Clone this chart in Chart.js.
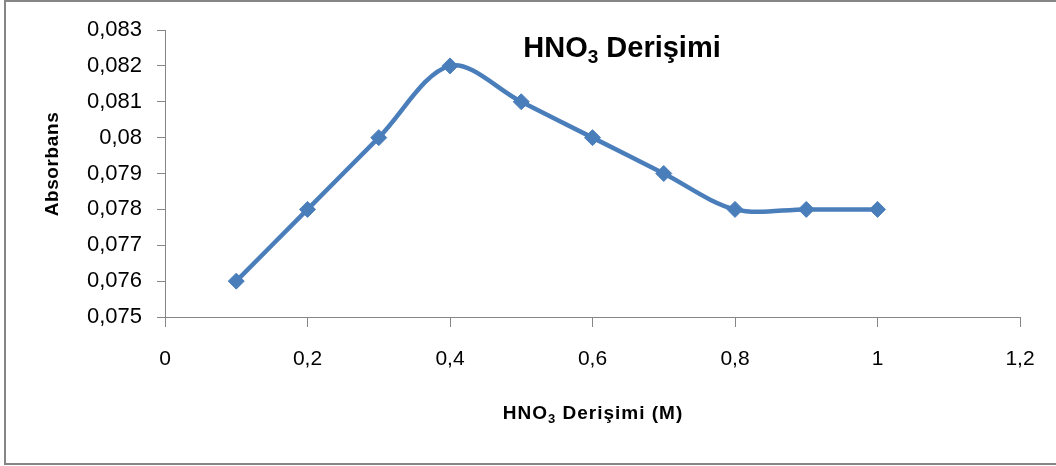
<!DOCTYPE html>
<html>
<head>
<meta charset="utf-8">
<script src="https://cdn.jsdelivr.net/npm/chart.js@4/dist/chart.umd.min.js"></script>
<style>
html,body{margin:0;padding:0;background:#fff;}
canvas{display:block;}
</style>
</head>
<body>
<canvas id="c" width="1056" height="466"></canvas>
<script>
const xValues = [0.1, 0.2, 0.3, 0.4, 0.5, 0.6, 0.7, 0.8, 0.9, 1.0];
const absorbans = [0.076, 0.078, 0.080, 0.082, 0.081, 0.080, 0.079, 0.078, 0.078, 0.078];
const xTicks = [0, 0.2, 0.4, 0.6, 0.8, 1.0, 1.2];
const xTickLabels = ['0', '0,2', '0,4', '0,6', '0,8', '1', '1,2'];
const yTicks = [0.075, 0.076, 0.077, 0.078, 0.079, 0.080, 0.081, 0.082, 0.083];
const yTickLabels = ['0,075', '0,076', '0,077', '0,078', '0,079', '0,08', '0,081', '0,082', '0,083'];

const FONT = '"Liberation Sans", Arial, sans-serif';
const AXIS = '#868686';

function drawChem(ctx, parts, cx, baseline, size, subSize, subDrop, spacing) {
  ctx.letterSpacing = (spacing || 0) + 'px';
  let total = 0;
  const widths = parts.map(p => {
    ctx.font = 'bold ' + (p[1] ? subSize : size) + 'px ' + FONT;
    const w = ctx.measureText(p[0]).width;
    total += w;
    return w;
  });
  let x = cx - total / 2;
  ctx.textAlign = 'left';
  ctx.textBaseline = 'alphabetic';
  parts.forEach((p, i) => {
    ctx.font = 'bold ' + (p[1] ? subSize : size) + 'px ' + FONT;
    ctx.fillText(p[0], x, baseline + (p[1] ? subDrop : 0));
    x += widths[i];
  });
  ctx.letterSpacing = '0px';
}

const deco = {
  id: 'deco',
  afterDraw(chart) {
    const ctx = chart.ctx;
    ctx.save();
    ctx.fillStyle = '#000';
    // chart title
    drawChem(ctx, [['HNO', false], ['3', true], [' Derişimi', false]], 622, 57, 29, 19, 6, 0);
    // x axis title
    drawChem(ctx, [['HNO', false], ['3', true], [' Derişimi (M)', false]], 593, 419, 19, 13, 4, 1);
    // y axis title
    ctx.translate(58, 164);
    ctx.rotate(-Math.PI / 2);
    ctx.font = 'bold 19px ' + FONT;
    ctx.letterSpacing = '0.6px';
    ctx.textAlign = 'center';
    ctx.textBaseline = 'alphabetic';
    ctx.fillText('Absorbans', 0, 0);
    ctx.restore();
    // outer frame (left, top, bottom)
    ctx.save();
    ctx.strokeStyle = AXIS;
    ctx.lineWidth = 2;
    ctx.beginPath();
    ctx.moveTo(1056, 1); ctx.lineTo(5, 1); ctx.lineTo(5, 464); ctx.lineTo(1056, 464);
    ctx.stroke();
    ctx.restore();
  }
};

new Chart(document.getElementById('c'), {
  type: 'line',
  data: {
    datasets: [{
      data: xValues.map((x, i) => ({x: x, y: absorbans[i]})),
      borderColor: '#4a7ebb',
      backgroundColor: '#4a7ebb',
      borderWidth: 4.5,
      tension: 0.33,
      pointStyle: 'rectRot',
      pointRadius: 8,
      pointBorderWidth: 1,
      pointBorderColor: '#4a7ebb',
      pointBackgroundColor: '#4a7ebb',
      fill: false
    }]
  },
  options: {
    responsive: false,
    animation: false,
    devicePixelRatio: 1,
    layout: {padding: {left: 0, right: 36, top: 30, bottom: 0}},
    plugins: {legend: {display: false}, title: {display: false}, tooltip: {enabled: false}},
    scales: {
      x: {
        type: 'linear',
        min: 0, max: 1.2,
        afterBuildTicks(s) { s.ticks = xTicks.map(v => ({value: v})); },
        afterFit(s) { s.height = 466 - 317; },
        ticks: {
          autoSkip: false,
          maxRotation: 0,
          padding: 20,
          color: '#000',
          font: {family: FONT, size: 21},
          callback: (v, i) => xTickLabels[i]
        },
        grid: {display: true, drawOnChartArea: false, drawTicks: true, tickLength: 10, color: AXIS, lineWidth: 1},
        border: {display: true, color: AXIS, width: 1}
      },
      y: {
        type: 'linear',
        min: 0.075, max: 0.083,
        afterBuildTicks(s) { s.ticks = yTicks.map(v => ({value: v})); },
        afterFit(s) { s.width = 165; },
        ticks: {
          autoSkip: false,
          padding: 15,
          color: '#000',
          font: {family: FONT, size: 22},
          callback: (v, i) => yTickLabels[i]
        },
        grid: {display: true, drawOnChartArea: false, drawTicks: true, tickLength: 8, color: AXIS, lineWidth: 1},
        border: {display: true, color: AXIS, width: 1}
      }
    }
  },
  plugins: [deco]
});
</script>
</body>
</html>
